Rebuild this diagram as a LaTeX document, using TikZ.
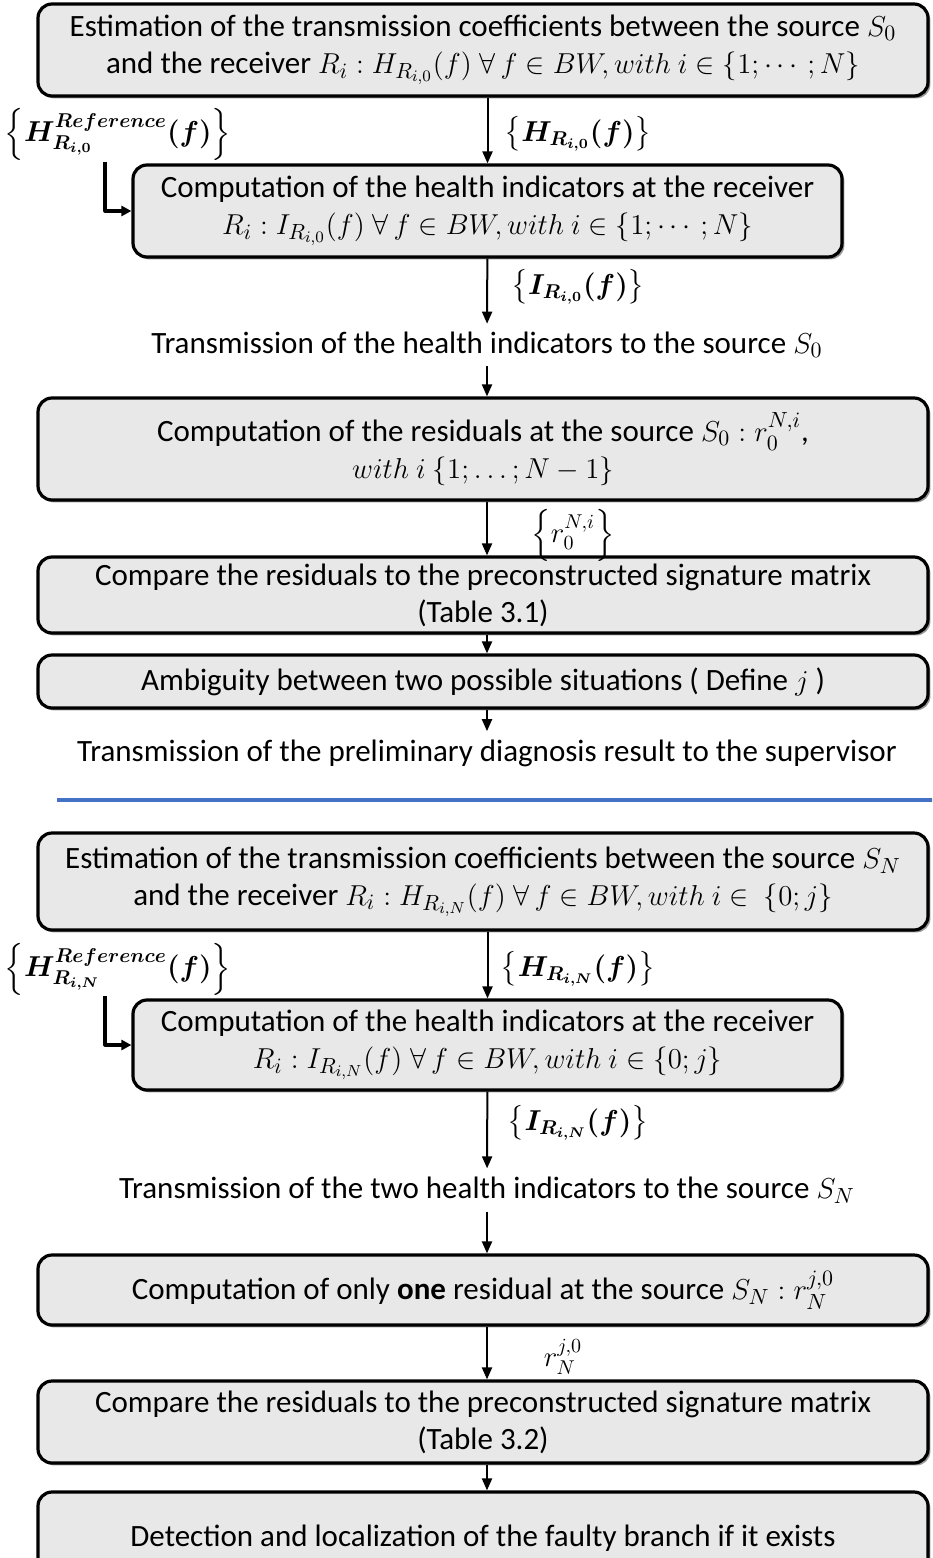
\documentclass[tikz,border=0pt]{standalone}
\usepackage{amsmath}
\usepackage{amssymb}
\usepackage{bm}
\usepackage{fontspec}
\setmainfont{Carlito}
\usetikzlibrary{arrows.meta,shadows,positioning}

\definecolor{sepblue}{RGB}{68,114,196}
\tikzset{
  procbox/.style={draw,line width=1.6pt,rounded corners=7pt,fill=gray!18,
    drop shadow={shadow xshift=1.2pt,shadow yshift=-1.2pt,opacity=0.4,fill=black},
    align=center,inner sep=2pt,minimum width=445pt},
  smallbox/.style={procbox,minimum width=354.5pt},
  plain/.style={align=center,inner sep=4pt},
  lab/.style={inner sep=1pt,font=\fontsize{14.5}{17}\selectfont},
  flow/.style={line width=1pt,-{Triangle[length=6pt,width=5pt]}},
  refflow/.style={line width=1.6pt,-{Triangle[length=5pt,width=5pt]}},
}

\begin{document}
\begin{tikzpicture}[x=0.5pt,y=-0.5pt,line join=round,font=\fontsize{15.5}{18.5}\selectfont]
  \clip (0,0) rectangle (932,1558);

  % first stage, source S_0
  \node[procbox,minimum height=46pt] (est0) at (483,50)
    {Estimation of the transmission coefficients between the source $S_0$\\
     and the receiver $R_i : H_{R_{i,0}}(f)\;\forall\, f \in BW, with\ i \in \{1;\cdots;N\}$};
  \node[smallbox,minimum height=46pt] (hi0) at (487.5,211)
    {Computation of the health indicators at the receiver\\
     $R_i : I_{R_{i,0}}(f)\;\forall\, f \in BW, with\ i \in \{1;\cdots;N\}$};
  \node[plain] (trans0) at (487,345)
    {Transmission of the health indicators to the source $S_0$};
  \node[procbox,minimum height=51pt] (res0) at (483,449)
    {Computation of the residuals at the source $S_0 : r_0^{N,i}$,\\
     $with\ i\ \{1;\ldots;N-1\}$};
  \node[procbox,minimum height=38pt] (cmp0) at (483,595)
    {Compare the residuals to the preconstructed signature matrix\\
     (Table 3.1)};
  \node[procbox,minimum height=26.5pt] (amb) at (483,681.5)
    {Ambiguity between two possible situations ( Define $j$ )};
  \node[plain] (prelim) at (487,753)
    {Transmission of the preliminary diagnosis result to the supervisor};

  % labels
  \node[lab] (href0) at (118,134) {$\left\{\bm{H^{Reference}_{R_{i,0}}(f)}\right\}$};
  \node[lab] (h0lab) at (578,134) {$\left\{\bm{H_{R_{i,0}}(f)}\right\}$};
  \node[lab] (i0lab) at (578,287) {$\left\{\bm{I_{R_{i,0}}(f)}\right\}$};
  \node[lab] (r0lab) at (573,535) {$\left\{r_0^{N,i}\right\}$};
  \coordinate (lref0) at (105,162);

  \draw[flow] (est0.south -| hi0) -- (hi0);
  \draw[refflow] (lref0) |- (hi0.west);
  \draw[flow] (hi0) -- (trans0);
  \draw[flow] (trans0) -- (res0.north -| trans0);
  \draw[flow] (res0.south -| trans0) -- (cmp0.north -| trans0);
  \draw[flow] (cmp0.south -| trans0) -- (amb.north -| trans0);
  \draw[flow] (amb.south -| prelim) -- (prelim);

  % separator
  \draw[sepblue,line width=2pt] (57,800) -- (940,800);

  % second stage, source S_N
  \node[procbox,minimum height=48.5pt] (estN) at (483,881.5)
    {Estimation of the transmission coefficients between the source $S_N$\\
     and the receiver $R_i : H_{R_{i,N}}(f)\;\forall\, f \in BW, with\ i \in\ \{0;j\}$};
  \node[smallbox,minimum height=45pt] (hiN) at (487.5,1045)
    {Computation of the health indicators at the receiver\\
     $R_i : I_{R_{i,N}}(f)\;\forall\, f \in BW, with\ i \in \{0;j\}$};
  \node[plain] (transN) at (487,1190)
    {Transmission of the two health indicators to the source $S_N$};
  \node[procbox,minimum height=35pt] (resN) at (483,1290)
    {Computation of only \textbf{one} residual at the source $S_N : r_N^{j,0}$};
  \node[procbox,minimum height=41pt] (cmpN) at (483,1422)
    {Compare the residuals to the preconstructed signature matrix\\
     (Table 3.2)};
  \node[procbox,minimum height=46pt] (detect) at (483,1538)
    {Detection and localization of the faulty branch if it exists};

  % labels
  \node[lab] (hrefN) at (118,969) {$\left\{\bm{H^{Reference}_{R_{i,N}}(f)}\right\}$};
  \node[lab] (hNlab) at (578,969) {$\left\{\bm{H_{R_{i,N}}(f)}\right\}$};
  \node[lab] (iNlab) at (578,1123) {$\left\{\bm{I_{R_{i,N}}(f)}\right\}$};
  \node[lab] (rNlab) at (563,1357) {$r_N^{j,0}$};
  \coordinate (lrefN) at (105,996);

  \draw[flow] (estN.south -| hiN) -- (hiN);
  \draw[refflow] (lrefN) |- (hiN.west);
  \draw[flow] (hiN) -- (transN);
  \draw[flow] (transN) -- (resN.north -| transN);
  \draw[flow] (resN.south -| transN) -- (cmpN.north -| transN);
  \draw[flow] (cmpN.south -| transN) -- (detect.north -| transN);
\end{tikzpicture}
\end{document}
